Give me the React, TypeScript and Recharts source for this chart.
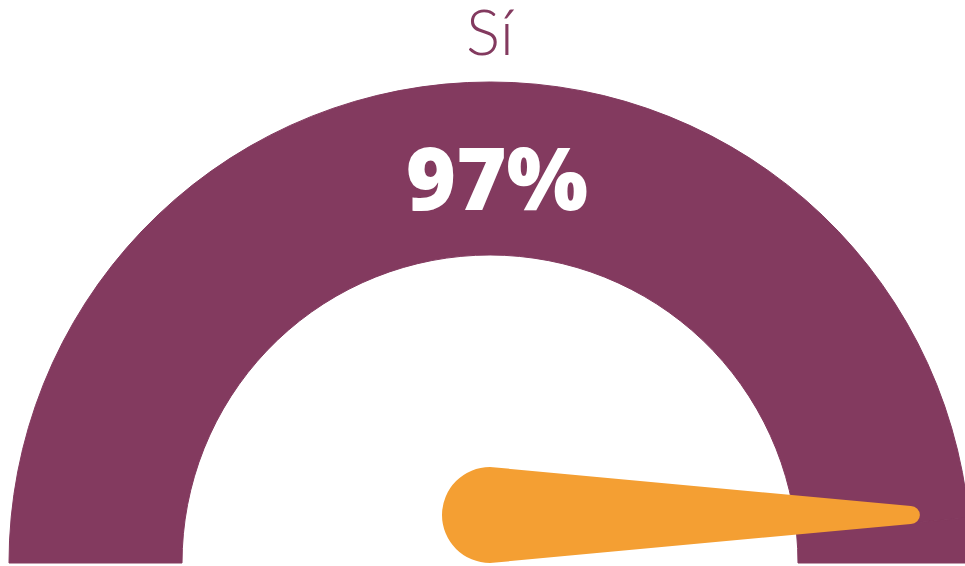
import React from "react";
import { PieChart, Pie, Cell, Label } from "recharts";

const title = "Sí";
const segments = ["Sí", "No"];
const values = [97, 3];
const PURPLE = "#833A5F";
const ORANGE = "#F49F33";

const data = segments.map((name, i) => ({ name, value: values[i] }));

const CX = 490;
const CY = 563;
const OUTER = 481;
const INNER = 308;

// needle + value, drawn from the pie's own centre (pivot sits a bit above it)
function GaugeOverlay(props: any) {
  const vb = props.viewBox || {};
  const cx = vb.cx ?? CX;
  const cy = vb.cy ?? CY;
  const outer = vb.outerRadius ?? OUTER;
  const px = cx;
  const py = cy - 48;
  const r0 = 48;
  const r1 = 9;
  const tx = px + outer * 0.875;
  const ty = py;
  const d = [
    `M ${px} ${py - r0}`,
    `L ${tx} ${ty - r1}`,
    `A ${r1} ${r1} 0 0 1 ${tx} ${ty + r1}`,
    `L ${px} ${py + r0}`,
    `A ${r0} ${r0} 0 0 1 ${px} ${py - r0}`,
    "Z",
  ].join(" ");
  return (
    <g>
      <path d={d} fill={ORANGE} />
      <text
        x={cx + 7}
        y={cy - 353}
        textAnchor="middle"
        fill="#fff"
        style={{ fontFamily: "'Open Sans', sans-serif", fontWeight: 800, fontSize: 86 }}
      >
        {`${values[0]}%`}
      </text>
    </g>
  );
}

export default function App() {
  return (
    <div style={{ position: "fixed", left: 0, top: 0, width: 965, height: 566, background: "#fff" }}>
      <PieChart width={965} height={566} margin={{ top: 0, right: 0, bottom: 0, left: 0 }}>
        <Pie
          data={data}
          dataKey="value"
          nameKey="name"
          cx={CX}
          cy={CY}
          startAngle={180}
          endAngle={0}
          innerRadius={INNER}
          outerRadius={OUTER}
          stroke={PURPLE}
          strokeWidth={1}
          isAnimationActive={false}
        >
          {data.map((d) => (
            <Cell key={d.name} fill={PURPLE} stroke={PURPLE} />
          ))}
          <Label position="center" content={<GaugeOverlay />} />
        </Pie>
        <text
          x={CX}
          y={55}
          textAnchor="middle"
          fill={PURPLE}
          style={{ fontFamily: "Lato, sans-serif", fontWeight: 300, fontSize: 64 }}
        >
          {title}
        </text>
      </PieChart>
    </div>
  );
}
